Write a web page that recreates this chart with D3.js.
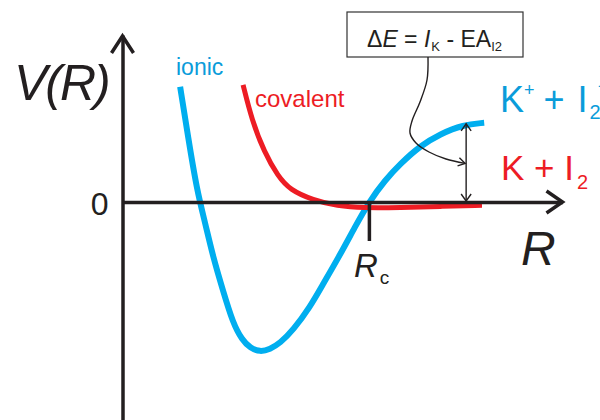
<!DOCTYPE html>
<html>
<head>
<meta charset="utf-8">
<script src="https://cdn.jsdelivr.net/npm/d3@7"></script>
<style>
  html, body { margin: 0; padding: 0; background: #fff; }
  svg { display: block; font-family: "Liberation Sans", Arial, Helvetica, sans-serif; }
</style>
</head>
<body>
<svg id="chart" width="600" height="420"></svg>
<script>
// Potential energy curves V(R) for K + I2 (harpoon mechanism), arbitrary units
const ionicR = [1.31, 1.49, 1.69, 1.88, 2.06, 2.28, 2.51, 2.72, 2.90, 3.13, 3.35, 3.58,
                3.88, 4.26, 4.56, 4.94, 5.28, 5.60, 5.97, 6.31, 6.76, 7.22, 7.74, 8.22];
const ionicV = [2.88, 1.63, 0.30, -0.53, -1.38, -2.20, -3.03, -3.45, -3.65, -3.75, -3.68, -3.53,
                -3.20, -2.63, -2.05, -1.33, -0.63, 0.00, 0.55, 0.95, 1.40, 1.70, 1.93, 1.98];
const covalentR = [2.74, 2.94, 3.22, 3.53, 3.81, 4.33, 4.88, 5.47, 6.31, 7.22, 8.17];
const covalentV = [2.93, 2.05, 1.25, 0.65, 0.30, 0.05, -0.10, -0.15, -0.14, -0.11, -0.08];

const crossingR = 5.60;      // R_c, where the two curves cross
const deltaE = 1.98;         // asymptotic gap between K+ + I2- and K + I2
const gapR = 7.81;           // where the ΔE arrow is drawn
const yTicks = [0];

const BLUE = "#00AEEF", RED = "#ED1C24", INK = "#231F20";
const BLUE_TEXT = "#0A9CDA";

const svg = d3.select("#chart");

const x = d3.scaleLinear().domain([0, 10]).range([122.5, 562.5]);
const y = d3.scaleLinear().domain([-5.45, 4.175]).range([420, 35]);

const line = d3.line()
  .x(d => x(d[0]))
  .y(d => y(d[1]))
  .curve(d3.curveBasis);

// curves
svg.append("path")
  .attr("d", line(d3.zip(ionicR, ionicV)))
  .attr("fill", "none").attr("stroke", BLUE).attr("stroke-width", 6);

svg.append("path")
  .attr("d", line(d3.zip(covalentR, covalentV)))
  .attr("fill", "none").attr("stroke", RED).attr("stroke-width", 5);

// axes
const yAxis = svg.append("g")
  .attr("transform", `translate(${x(0)},0)`)
  .call(d3.axisLeft(y).tickValues(yTicks).tickSize(0).tickSizeOuter(0).tickPadding(14).tickFormat(d3.format("d")));
yAxis.select(".domain").attr("stroke", INK).attr("stroke-width", 3.5);
yAxis.selectAll("text")
  .attr("font-size", 32).attr("font-family", "Liberation Sans, Arial, sans-serif")
  .attr("fill", INK).attr("dy", "0.4em");

const xAxis = svg.append("g")
  .attr("transform", `translate(0,${y(0)})`)
  .call(d3.axisBottom(x).tickValues([crossingR]).tickSize(39).tickSizeOuter(0).tickFormat(""));
xAxis.select(".domain").attr("stroke", INK).attr("stroke-width", 3.5);
xAxis.selectAll(".tick line").attr("stroke", INK).attr("stroke-width", 3.5);

// arrow heads on the axes
const arrowStyle = s => s.attr("fill", "none").attr("stroke", INK)
  .attr("stroke-width", 3.5).attr("stroke-linejoin", "miter").attr("stroke-linecap", "butt");
svg.append("polyline")
  .attr("points", [[x(0) - 11, 53], [x(0), 36], [x(0) + 11, 53]].join(" "))
  .call(arrowStyle);
svg.append("polyline")
  .attr("points", [[x(10) - 16, y(0) - 11], [x(10), y(0)], [x(10) - 16, y(0) + 11]].join(" "))
  .call(arrowStyle);

// axis titles
svg.append("text")
  .attr("x", 14).attr("y", 100)
  .attr("font-size", 50).attr("font-style", "italic").attr("fill", INK)
  .attr("letter-spacing", -2)
  .text("V(R)");

svg.append("text")
  .attr("x", 521).attr("y", 265)
  .attr("font-size", 48).attr("font-style", "italic").attr("fill", INK)
  .text("R");

const rc = svg.append("text")
  .attr("x", 354).attr("y", 277)
  .attr("font-size", 33).attr("fill", INK);
rc.append("tspan").attr("font-style", "italic").text("R");
rc.append("tspan").attr("font-size", 19).attr("dy", 7).attr("dx", 2).text("c");

// curve names
svg.append("text")
  .attr("x", 176).attr("y", 75)
  .attr("font-size", 23).attr("fill", BLUE_TEXT)
  .text("ionic");
svg.append("text")
  .attr("x", 255).attr("y", 107)
  .attr("font-size", 24).attr("fill", RED)
  .text("covalent");

// asymptote labels
const ionLabel = svg.append("text")
  .attr("x", 500).attr("y", 112)
  .attr("font-size", 36).attr("fill", BLUE_TEXT);
ionLabel.append("tspan").text("K");
ionLabel.append("tspan").attr("font-size", 18).attr("dy", -16).text("+");
ionLabel.append("tspan").attr("dy", 16).attr("dx", -1).text(" + ");
ionLabel.append("tspan").attr("dx", 3).text("I");
ionLabel.append("tspan").attr("font-size", 20).attr("dy", 7).attr("dx", 2).text("2");
ionLabel.append("tspan").attr("font-size", 20).attr("dy", -26).attr("dx", -3).text("−");

const neutralLabel = svg.append("text")
  .attr("x", 501).attr("y", 180)
  .attr("font-size", 35).attr("fill", RED);
neutralLabel.append("tspan").text("K + I");
neutralLabel.append("tspan").attr("font-size", 20).attr("dy", 9).attr("dx", 3).text("2");

// ΔE double arrow between the two asymptotes
const gx = x(gapR), gTop = y(deltaE), gBot = y(0);
const thin = s => s.attr("fill", "none").attr("stroke", INK).attr("stroke-width", 1.4);
svg.append("line").attr("x1", gx).attr("x2", gx).attr("y1", gTop + 1).attr("y2", gBot - 1).call(thin);
svg.append("polyline").attr("points", [[gx - 5, gTop + 8], [gx, gTop + 1], [gx + 5, gTop + 8]].join(" ")).call(thin);
svg.append("polyline").attr("points", [[gx - 5, gBot - 8], [gx, gBot - 1], [gx + 5, gBot - 8]].join(" ")).call(thin);

// annotation box
const box = { x: 347, y: 12, w: 176, h: 45 };
svg.append("rect")
  .attr("x", box.x).attr("y", box.y).attr("width", box.w).attr("height", box.h)
  .attr("fill", "#fff").attr("stroke", "#333").attr("stroke-width", 1.2);

const eq = svg.append("text")
  .attr("x", 367).attr("y", 47)
  .attr("font-size", 23).attr("fill", INK);
eq.append("tspan").text("Δ");
eq.append("tspan").attr("font-style", "italic").text("E");
eq.append("tspan").text(" = ");
eq.append("tspan").attr("font-style", "italic").text("I");
eq.append("tspan").attr("font-size", 13).attr("dy", 4).attr("dx", 1).text("K");
eq.append("tspan").attr("dy", -4).text(" - EA");
eq.append("tspan").attr("font-size", 13).attr("dy", 4).text("I2");

// connector from the box to the ΔE arrow
const connector = [[428, 57], [427, 80], [420, 102], [412, 121], [410, 133], [416, 143],
                   [429, 152], [446, 159], [gx - 1, (gTop + gBot) / 2 + 1]];
svg.append("path")
  .attr("d", d3.line().curve(d3.curveCatmullRom.alpha(0.5))(connector))
  .call(thin);
{
  const [tx, ty] = connector[connector.length - 1];
  const [px, py] = connector[connector.length - 2];
  const a = Math.atan2(ty - py, tx - px), L = 8, spread = 0.55;
  svg.append("polyline")
    .attr("points", [
      [tx - L * Math.cos(a - spread), ty - L * Math.sin(a - spread)],
      [tx, ty],
      [tx - L * Math.cos(a + spread), ty - L * Math.sin(a + spread)]
    ].join(" "))
    .call(thin);
}
</script>
</body>
</html>
